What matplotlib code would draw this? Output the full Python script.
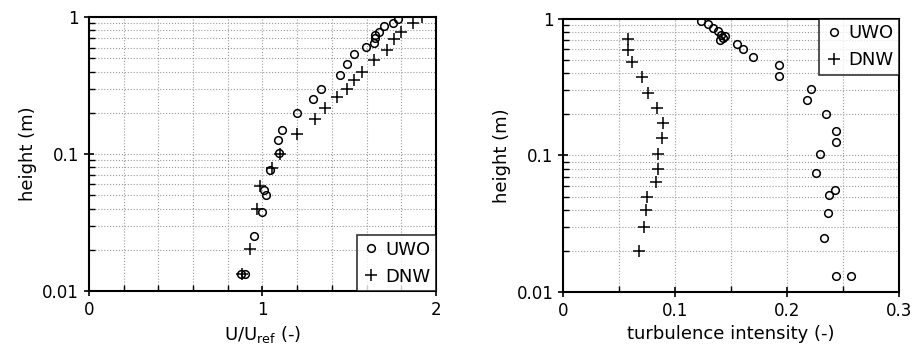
import numpy as np
import matplotlib
matplotlib.use('Agg')
import matplotlib.pyplot as plt
from matplotlib.ticker import FixedLocator, MultipleLocator, FuncFormatter, LogLocator, NullFormatter

# mean velocity profile, U/Uref vs height (m)
uwo_u = [1.78, 1.75, 1.70, 1.67, 1.65, 1.65, 1.64, 1.595, 1.53, 1.485, 1.445, 1.335,
         1.29, 1.20, 1.11, 1.09, 1.094, 1.046, 1.01, 1.02, 0.998, 0.95, 0.877, 0.90]
uwo_uz = [0.962, 0.909, 0.86, 0.78, 0.74, 0.70, 0.65, 0.61, 0.535, 0.454, 0.377, 0.298,
          0.252, 0.201, 0.151, 0.127, 0.101, 0.076, 0.055, 0.050, 0.038, 0.025, 0.0132, 0.0132]
dnw_u = [1.92, 1.865, 1.80, 1.76, 1.715, 1.64, 1.575, 1.53, 1.485, 1.43, 1.36, 1.30,
         1.20, 1.104, 1.056, 0.988, 0.97, 0.927, 0.883]
dnw_uz = [1.0, 0.90, 0.78, 0.69, 0.58, 0.49, 0.40, 0.347, 0.30, 0.259, 0.218, 0.18,
          0.14, 0.10, 0.079, 0.058, 0.040, 0.0202, 0.0132]

# turbulence intensity vs height (m)
uwo_ti = [0.1235, 0.129, 0.134, 0.138, 0.141, 0.143, 0.140, 0.145, 0.155, 0.161, 0.170,
          0.193, 0.193, 0.222, 0.218, 0.235, 0.244, 0.244, 0.230, 0.226, 0.243, 0.238,
          0.237, 0.233, 0.244, 0.257]
uwo_tz = [0.967, 0.92, 0.855, 0.81, 0.76, 0.72, 0.70, 0.75, 0.66, 0.60, 0.53,
          0.46, 0.38, 0.305, 0.255, 0.20, 0.152, 0.126, 0.102, 0.075, 0.056, 0.051,
          0.038, 0.025, 0.0132, 0.0132]
dnw_ti = [0.058, 0.058, 0.0617, 0.070, 0.076, 0.0834, 0.0888, 0.088, 0.0843, 0.0843,
          0.083, 0.075, 0.074, 0.072, 0.0677]
dnw_tz = [0.71, 0.59, 0.48, 0.374, 0.285, 0.224, 0.174, 0.135, 0.103, 0.079,
          0.064, 0.050, 0.040, 0.030, 0.020]

plt.rcParams['font.family'] = 'DejaVu Sans'
fig = plt.figure(figsize=(9.16, 3.57), dpi=100)
ax1 = fig.add_axes([0.097, 0.185, 0.379, 0.767])
ax2 = fig.add_axes([0.615, 0.182, 0.366, 0.765])

def yfmt(v, pos):
    return {1.0: '1', 0.1: '0.1', 0.01: '0.01'}.get(round(v, 4), '')

def style_ax(ax, xmax, xmaj, xmin):
    ax.set_yscale('log')
    ax.set_ylim(0.01, 1)
    ax.set_xlim(0, xmax)
    ax.xaxis.set_major_locator(FixedLocator(xmaj))
    ax.xaxis.set_minor_locator(MultipleLocator(xmin))
    ax.yaxis.set_major_locator(FixedLocator([0.01, 0.1, 1]))
    ax.yaxis.set_minor_locator(LogLocator(base=10, subs=np.arange(2, 10)))
    ax.yaxis.set_major_formatter(FuncFormatter(yfmt))
    ax.yaxis.set_minor_formatter(NullFormatter())
    ax.grid(True, which='both', ls=':', color='#999999', lw=0.8)
    ax.tick_params(which='major', direction='inout', length=7, width=1.2, labelsize=12)
    ax.tick_params(which='minor', direction='in', length=4, width=1)
    for s in ax.spines.values():
        s.set_linewidth(1.5)
    ax.set_ylabel('height (m)', fontsize=13)

style_ax(ax1, 2, [0, 1, 2], 0.2)
ax1.set_xticklabels(['0', '1', '2'])
ax1.plot(uwo_u, uwo_uz, 'o', mfc='none', mec='black', ms=5.5, mew=1.1, label='UWO')
ax1.plot(dnw_u, dnw_uz, '+', color='black', ms=8, mew=1.1, label='DNW')
ax1.set_xlabel(r'U/U$_\mathregular{ref}$ (-)', fontsize=13)
leg1 = ax1.legend(loc='lower right', fontsize=13, frameon=True, fancybox=False,
                  edgecolor='black', handletextpad=0.3, handlelength=1.0,
                  borderaxespad=0.0, borderpad=0.3)
leg1.get_frame().set_linewidth(1.2)

style_ax(ax2, 0.3, [0, 0.1, 0.2, 0.3], 0.05)
ax2.set_xticklabels(['0', '0.1', '0.2', '0.3'])
ax2.plot(uwo_ti, uwo_tz, 'o', mfc='none', mec='black', ms=5.5, mew=1.1, label='UWO')
ax2.plot(dnw_ti, dnw_tz, '+', color='black', ms=8, mew=1.1, label='DNW')
ax2.set_xlabel('turbulence intensity (-)', fontsize=13)
leg2 = ax2.legend(loc='upper right', fontsize=13, frameon=True, fancybox=False,
                  edgecolor='black', handletextpad=0.3, handlelength=1.0,
                  borderaxespad=0.0, borderpad=0.3)
leg2.get_frame().set_linewidth(1.2)

fig.savefig('out.png', dpi=100)
